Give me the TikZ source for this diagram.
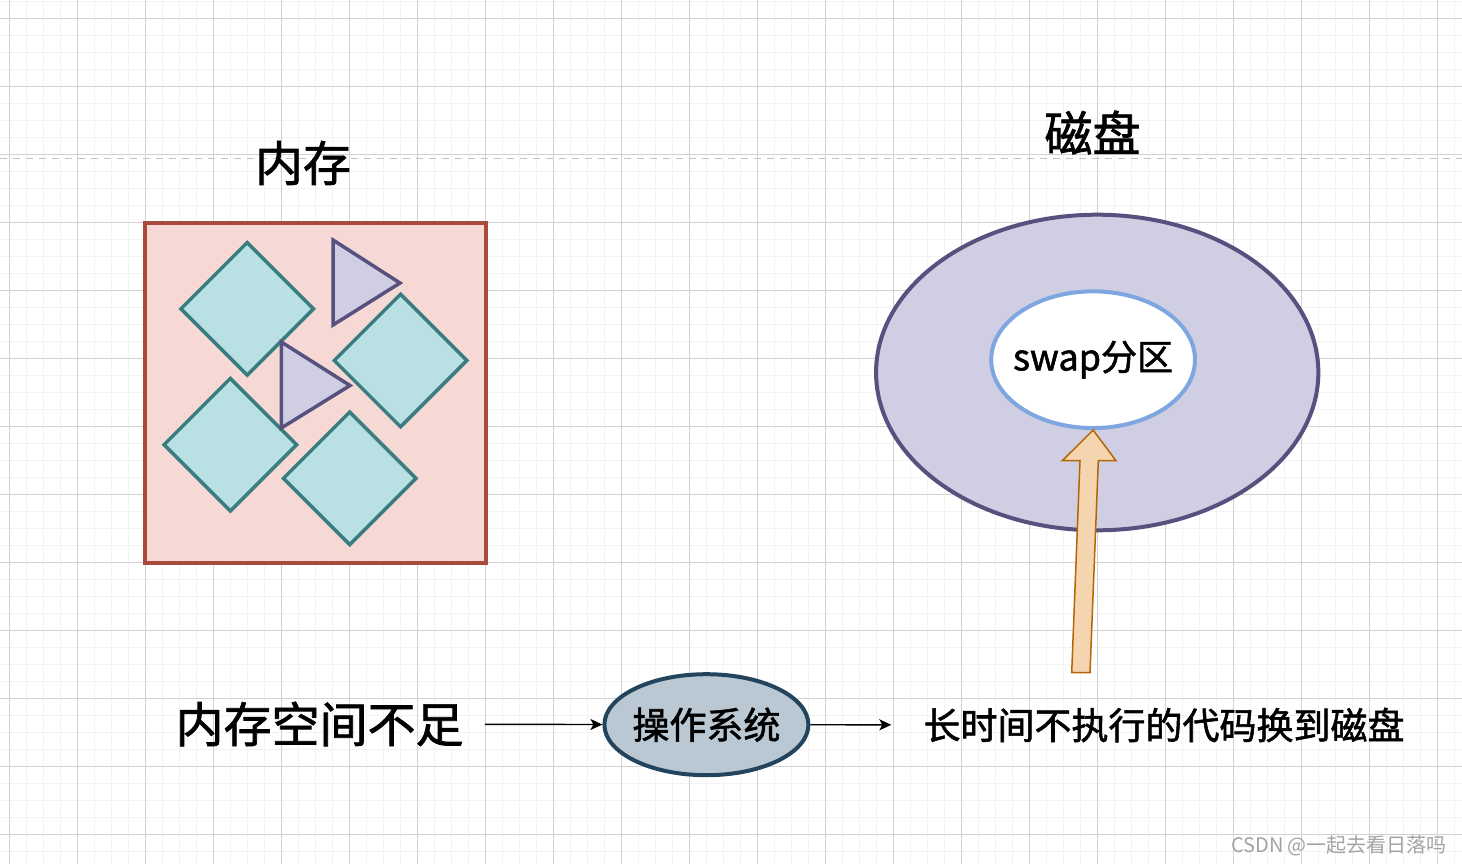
\documentclass[tikz,border=0pt]{standalone}
\usepackage{fontspec}
\setmainfont{Noto Sans CJK SC}[FakeBold=1.5]
\newfontfamily\markfont{Noto Sans CJK SC}
\usetikzlibrary{shapes, arrows.meta, calc}
\definecolor{gridmajor}{HTML}{D2D2D2}
\definecolor{gridminor}{HTML}{F3F3F3}
\definecolor{pagedash}{HTML}{C2C2C2}
\definecolor{memline}{HTML}{A84A3C}
\definecolor{memfill}{HTML}{F6D8D5}
\definecolor{gemline}{HTML}{3A7D81}
\definecolor{gemfill}{HTML}{B9E1E3}
\definecolor{diskline}{HTML}{56517E}
\definecolor{diskfill}{HTML}{D0CEE2}
\definecolor{swapline}{HTML}{7EA6E0}
\definecolor{osline}{HTML}{23445D}
\definecolor{osfill}{HTML}{BAC8D3}
\definecolor{pushline}{HTML}{B46504}
\definecolor{pushfill}{HTML}{F4D5AF}
\definecolor{markgray}{HTML}{A3A3A3}

\begin{document}
\begin{tikzpicture}[x=1pt,y=-1pt,
  gem/.style={diamond, draw=gemline, fill=gemfill, line width=3.5pt, minimum size=134pt, inner sep=0pt},
  tri/.style={draw=diskline, fill=diskfill, line width=3.5pt},
  flow/.style={line width=1.4pt, -{Stealth[length=12pt,width=11pt,inset=3pt]}},
  big/.style={inner sep=0pt, font=\fontsize{48}{48}\selectfont},
  mid/.style={inner sep=0pt, font=\fontsize{37}{37}\selectfont}]
\fill[white, use as bounding box] (0,0) rectangle (1462,864);
\foreach \x in {9.3,26.3,...,1462} \draw[gridminor, line width=1.5pt] (\x,0) -- (\x,864);
\foreach \y in {1.3,18.3,...,864} \draw[gridminor, line width=1.5pt] (0,\y) -- (1462,\y);
\foreach \x in {9.3,77.3,...,1462} \draw[gridmajor, line width=1pt] (\x,0) -- (\x,864);
\foreach \y in {18.3,86.3,...,864} \draw[gridmajor, line width=1pt] (0,\y) -- (1462,\y);
\draw[pagedash, line width=1.3pt, dash pattern=on 7pt off 6pt] (0,158.3) -- (1462,158.3);

\node[big] (memtitle) at (303,163) {内存};
\node[big] (disktitle) at (1092.5,132.5) {磁盘};

\node[draw=memline, fill=memfill, line width=4pt, minimum width=340.7pt, minimum height=340pt, inner sep=0pt] (mem) at (315.3,393.3) {};
\foreach \n / \x / \y in {a/247.2/308.8, b/400.5/360.5, c/230.3/444.7, d/349.7/478.3}
  \node[gem] (gem\n) at (\x,\y) {};
\draw[tri] (333,240) -- (333,325) -- (400,283) -- cycle;
\draw[tri] (281.3,342) -- (281.3,428) -- (350,385.5) -- cycle;

\node[ellipse, draw=diskline, fill=diskfill, line width=4pt, minimum width=442.3pt, minimum height=315.6pt, inner sep=0pt] (disk) at (1097.2,372.5) {};
\node[ellipse, draw=swapline, fill=white, line width=4pt, minimum width=203.8pt, minimum height=136.7pt, inner sep=0pt,
  font=\fontsize{36}{36}\selectfont] (swap) at (1093.1,359.7) {\makebox[0pt]{swap分区}};
\draw[pushline, fill=pushfill, line width=1.5pt] (1071.7,672.7) -- (1080,460.7) -- (1062.3,460.7) -- (swap.south)
  -- (1116,460.7) -- (1098.3,460.7) -- (1090,672.7) -- cycle;

\node[big] (lack) at (319.6,724) {内存空间不足};
\node[ellipse, draw=osline, fill=osfill, line width=4pt, minimum width=204pt, minimum height=101pt, inner sep=0pt,
  font=\fontsize{37}{37}\selectfont] (os) at (706.4,724.7) {\makebox[0pt]{操作系统}};
\node[mid] (swapout) at (1164,725) {长时间不执行的代码换到磁盘};
\draw[flow, shorten <=21pt] (lack) -- (os);
\draw[flow, shorten >=32pt] (os) -- (swapout);

\node[markgray, inner sep=0pt, font=\markfont\fontsize{20}{20}\selectfont] (mark) at (1339,846) {CSDN @一起去看日落吗};
\end{tikzpicture}
\end{document}
